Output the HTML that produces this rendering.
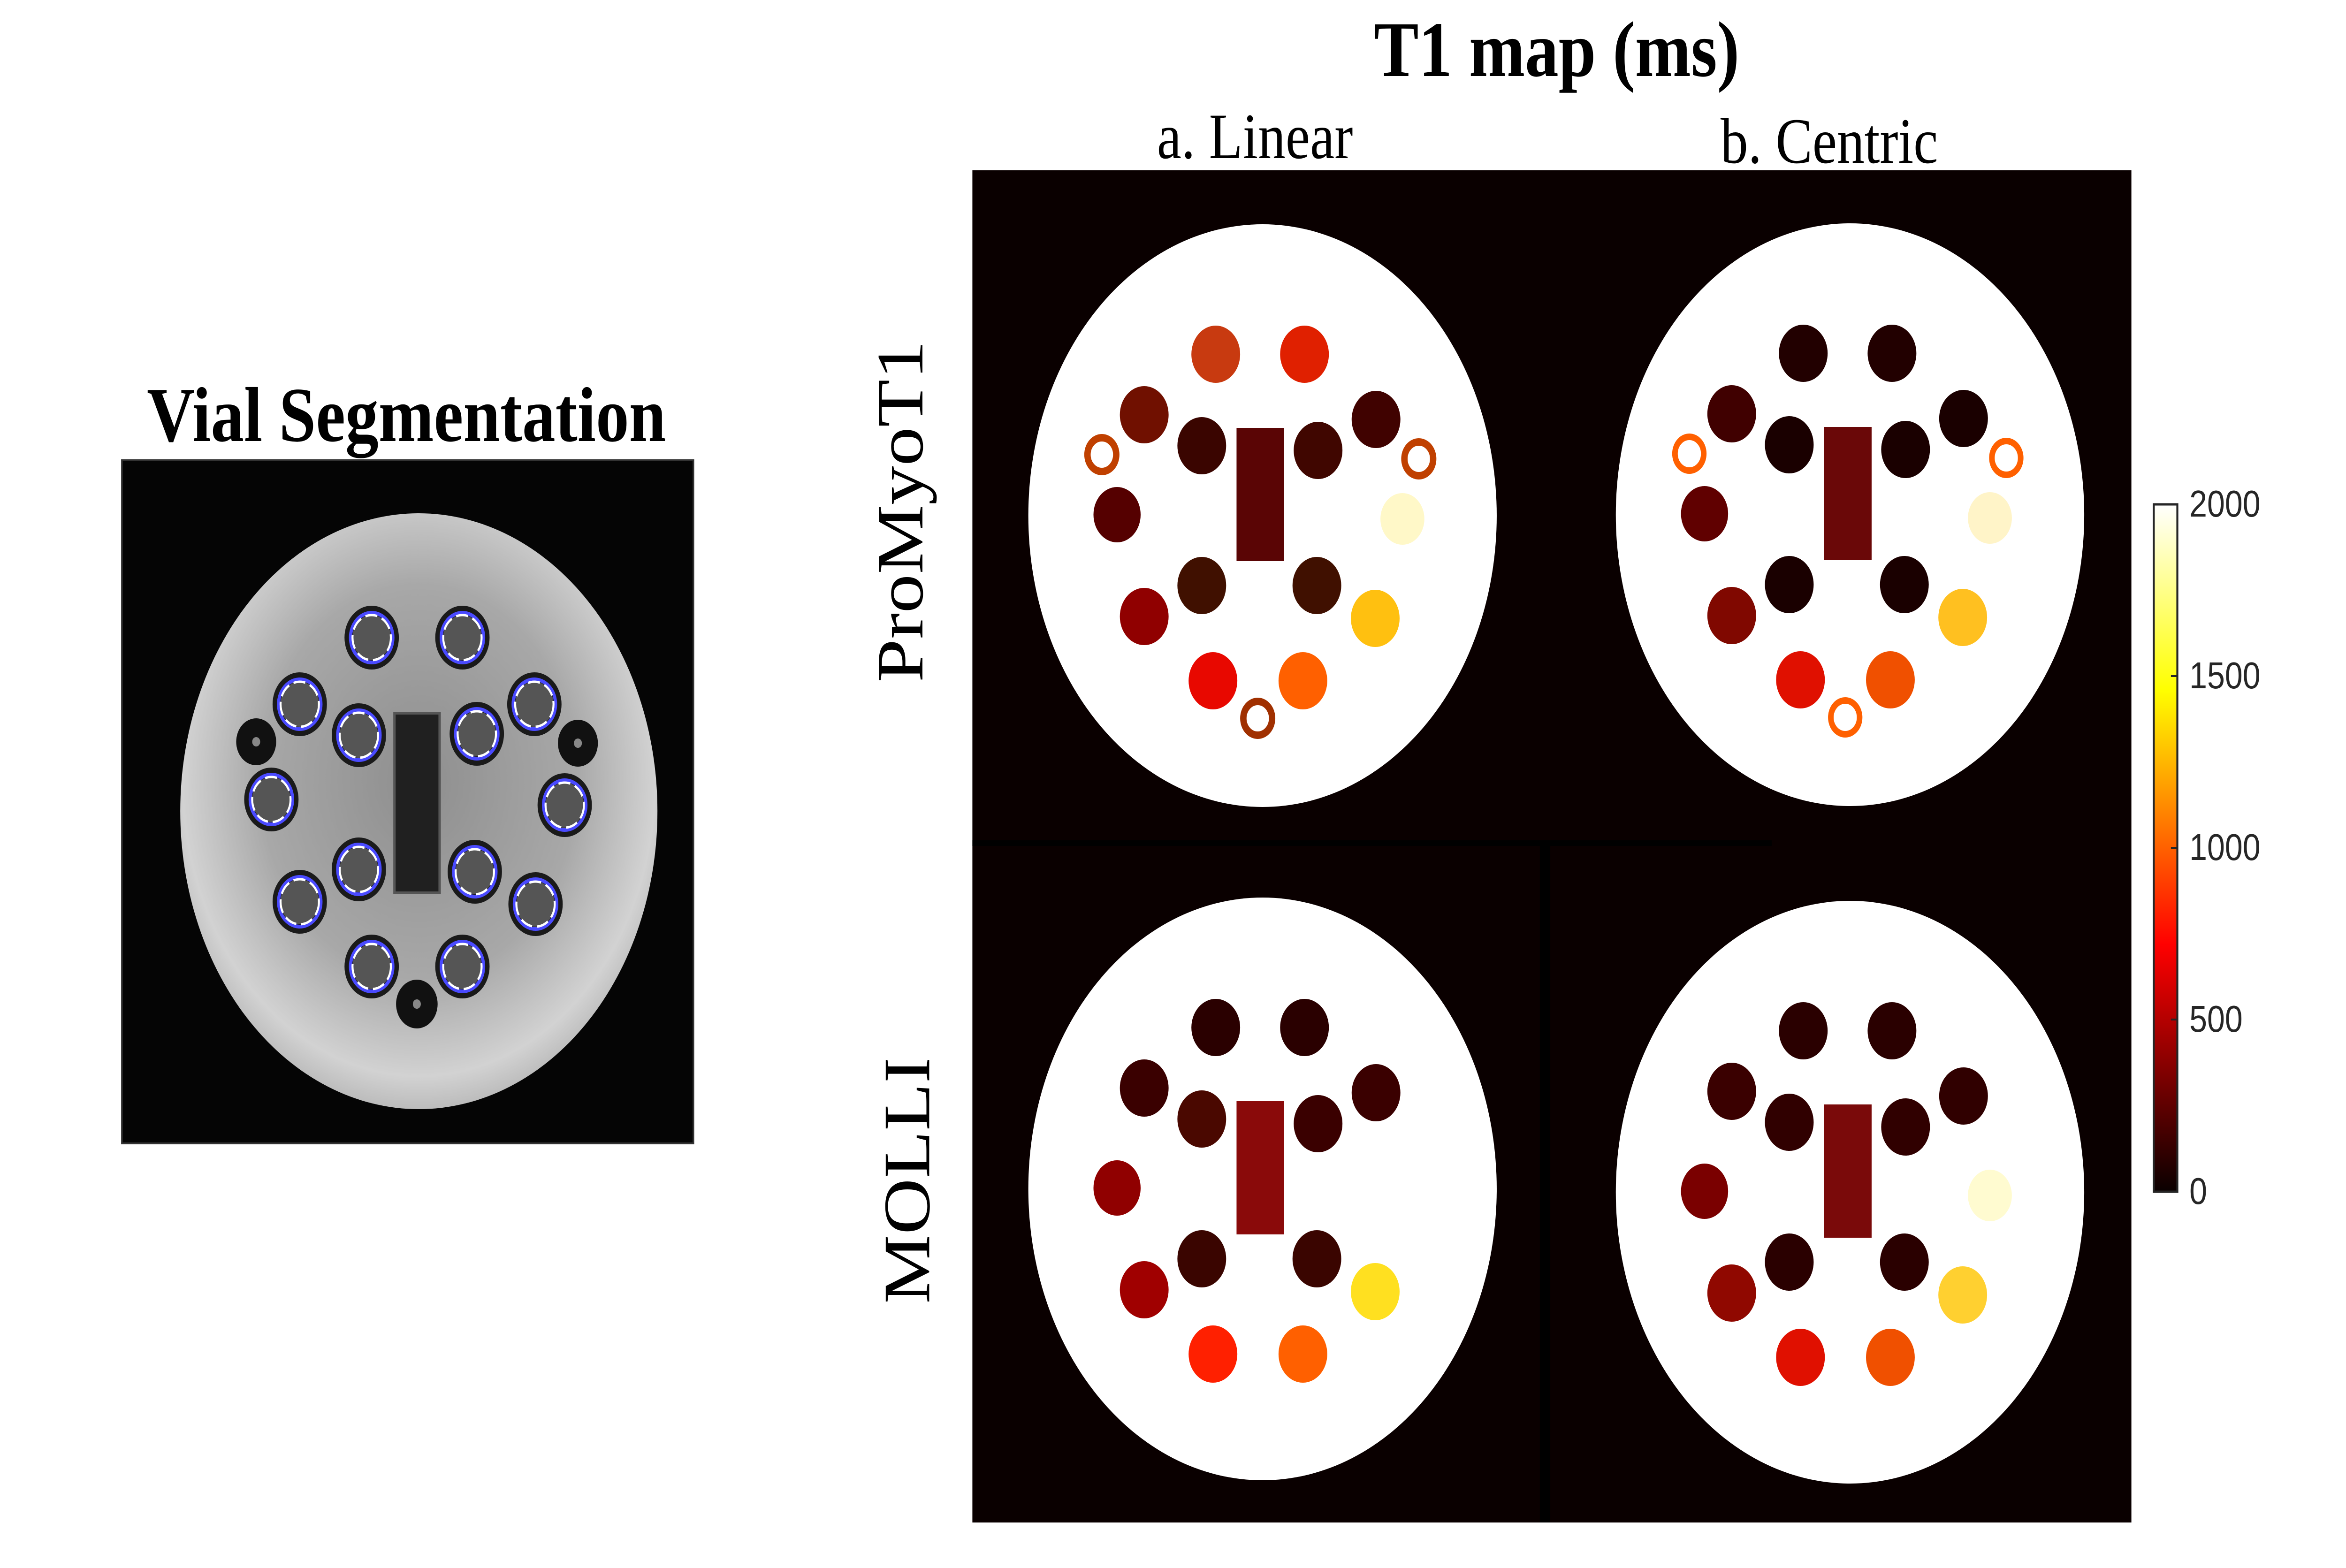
<!DOCTYPE html>
<html><head><meta charset="utf-8"><style>
html,body{margin:0;padding:0;background:#fff;overflow:hidden;width:100%;height:100%;}
svg{display:block;width:100vw;height:100vh;}
</style></head><body>
<svg xmlns="http://www.w3.org/2000/svg" viewBox="0 0 5870 3342" preserveAspectRatio="none">
<defs>
<radialGradient id="ph" cx="50%" cy="45%" r="55%">
<stop offset="0" stop-color="#8e8e8e"/><stop offset="0.6" stop-color="#a8a8a8"/><stop offset="0.9" stop-color="#d2d2d2"/><stop offset="1" stop-color="#bcbcbc"/>
</radialGradient>
<linearGradient id="cb" x1="0" y1="1" x2="0" y2="0">
<stop offset="0" stop-color="#0a0000"/><stop offset="0.36" stop-color="#ff0000"/><stop offset="0.73" stop-color="#ffff00"/><stop offset="1" stop-color="#ffffff"/>
</linearGradient>
<g id="gv">
<circle r="68" fill="#1a1a1a"/><circle r="48" fill="#555"/>
<circle r="53" fill="none" stroke="#4a4aff" stroke-width="8"/>
<circle r="48" fill="none" stroke="#fff" stroke-width="5" stroke-dasharray="30 12"/>
</g>
</defs>
<rect width="5870" height="3342" fill="#fff"/>

<text x="1017" y="940" font-family="Liberation Serif, serif" font-weight="bold" font-size="166" text-anchor="middle">Vial Segmentation</text>
<text x="3895" y="162" font-family="Liberation Serif, serif" font-weight="bold" font-size="168" text-anchor="middle">T1 map (ms)</text>
<text x="3140" y="337" font-family="Liberation Serif, serif" font-size="138" text-anchor="middle">a. Linear</text>
<text x="4577" y="347" font-family="Liberation Serif, serif" font-size="138" text-anchor="middle">b. Centric</text>
<text transform="translate(2308,1090) rotate(-90)" font-family="Liberation Serif, serif" font-size="166" text-anchor="middle">ProMyoT1</text>
<text transform="translate(2325,2516) rotate(-90)" font-family="Liberation Serif, serif" font-size="166" text-anchor="middle">MOLLI</text>

<rect x="305" y="981" width="1430" height="1456" fill="#050505" stroke="#333" stroke-width="4"/>
<ellipse cx="1048" cy="1729" rx="597" ry="635" fill="url(#ph)"/>
<rect x="987" y="1520" width="113" height="383" fill="#202020" stroke="#555" stroke-width="6"/>
<g fill="#111"><circle cx="641" cy="1581" r="50"/><circle cx="1446" cy="1584" r="50"/><circle cx="1043" cy="2140" r="52"/></g>
<g fill="#888"><circle cx="641" cy="1581" r="10"/><circle cx="1446" cy="1584" r="10"/><circle cx="1043" cy="2140" r="10"/></g>
<use href="#gv" x="930" y="1359"/><use href="#gv" x="1157" y="1359"/>
<use href="#gv" x="750" y="1501"/><use href="#gv" x="1337" y="1501"/>
<use href="#gv" x="898" y="1567"/><use href="#gv" x="1193" y="1564"/>
<use href="#gv" x="679" y="1704"/><use href="#gv" x="1413" y="1716"/>
<use href="#gv" x="898" y="1853"/><use href="#gv" x="1188" y="1858"/>
<use href="#gv" x="750" y="1922"/><use href="#gv" x="1340" y="1927"/>
<use href="#gv" x="930" y="2060"/><use href="#gv" x="1157" y="2060"/>

<rect x="2433" y="363" width="2900" height="2882" fill="#0a0000"/>
<rect x="2433" y="1791" width="2000" height="12" fill="#000"/>
<rect x="3853" y="1800" width="26" height="1445" fill="#000"/>

<g transform="translate(3159,1099)">
<ellipse rx="586" ry="621" fill="#fff"/>
<circle cx="-117" cy="-344" r="61" fill="#c83a10"/>
<circle cx="105" cy="-344" r="61" fill="#e02000"/>
<circle cx="-296" cy="-215" r="61" fill="#701000"/>
<circle cx="284" cy="-205" r="61" fill="#400200"/>
<circle cx="-152" cy="-149" r="61" fill="#3a0500"/>
<circle cx="139" cy="-139" r="61" fill="#400600"/>
<circle cx="-402" cy="-130" r="36" fill="none" stroke="#c04000" stroke-width="16"/>
<circle cx="391" cy="-121" r="36" fill="none" stroke="#c04000" stroke-width="16"/>
<circle cx="-364" cy="-2" r="59" fill="#550000"/>
<circle cx="350" cy="7" r="55" fill="#fff8c8"/>
<rect x="-65" y="-187" width="119" height="284" fill="#5a0505"/>
<circle cx="-152" cy="149" r="61" fill="#401000"/>
<circle cx="136" cy="149" r="61" fill="#401000"/>
<circle cx="-296" cy="215" r="61" fill="#900000"/>
<circle cx="282" cy="219" r="61" fill="#ffc010"/>
<circle cx="-124" cy="352" r="61" fill="#e80800"/>
<circle cx="101" cy="352" r="61" fill="#ff6000"/>
<circle cx="-12" cy="432" r="36" fill="none" stroke="#a03000" stroke-width="16"/>
</g>

<g transform="translate(4629,1097)">
<ellipse rx="586" ry="621" fill="#fff"/>
<circle cx="-117" cy="-344" r="61" fill="#220000"/>
<circle cx="105" cy="-344" r="61" fill="#220000"/>
<circle cx="-296" cy="-215" r="61" fill="#400000"/>
<circle cx="284" cy="-205" r="61" fill="#1a0000"/>
<circle cx="-152" cy="-149" r="61" fill="#1a0000"/>
<circle cx="139" cy="-139" r="61" fill="#1a0000"/>
<circle cx="-402" cy="-130" r="36" fill="none" stroke="#ff6000" stroke-width="14"/>
<circle cx="391" cy="-121" r="36" fill="none" stroke="#ff6000" stroke-width="14"/>
<circle cx="-364" cy="-2" r="59" fill="#600000"/>
<circle cx="350" cy="7" r="55" fill="#fff4c8"/>
<rect x="-65" y="-187" width="119" height="284" fill="#6a0808"/>
<circle cx="-152" cy="149" r="61" fill="#1a0000"/>
<circle cx="136" cy="149" r="61" fill="#1a0000"/>
<circle cx="-296" cy="215" r="61" fill="#800800"/>
<circle cx="282" cy="219" r="61" fill="#ffc020"/>
<circle cx="-124" cy="352" r="61" fill="#e01000"/>
<circle cx="101" cy="352" r="61" fill="#f05000"/>
<circle cx="-12" cy="432" r="36" fill="none" stroke="#ff6000" stroke-width="14"/>
</g>

<g transform="translate(3159,2534)">
<ellipse rx="586" ry="621" fill="#fff"/>
<circle cx="-117" cy="-344" r="61" fill="#2a0000"/>
<circle cx="105" cy="-344" r="61" fill="#2a0000"/>
<circle cx="-296" cy="-215" r="61" fill="#3a0000"/>
<circle cx="284" cy="-205" r="61" fill="#3a0000"/>
<circle cx="-152" cy="-149" r="61" fill="#4a0800"/>
<circle cx="139" cy="-139" r="61" fill="#3a0000"/>
<circle cx="-364" cy="-2" r="59" fill="#900000"/>
<rect x="-65" y="-187" width="119" height="284" fill="#8a0a0a"/>
<circle cx="-152" cy="149" r="61" fill="#3a0500"/>
<circle cx="136" cy="149" r="61" fill="#3a0500"/>
<circle cx="-296" cy="215" r="61" fill="#a00000"/>
<circle cx="282" cy="219" r="61" fill="#ffe020"/>
<circle cx="-124" cy="352" r="61" fill="#ff2000"/>
<circle cx="101" cy="352" r="61" fill="#ff6000"/>
</g>

<g transform="translate(4629,2541)">
<ellipse rx="586" ry="621" fill="#fff"/>
<circle cx="-117" cy="-344" r="61" fill="#2a0000"/>
<circle cx="105" cy="-344" r="61" fill="#2a0000"/>
<circle cx="-296" cy="-215" r="61" fill="#3a0000"/>
<circle cx="284" cy="-205" r="61" fill="#300000"/>
<circle cx="-152" cy="-149" r="61" fill="#300000"/>
<circle cx="139" cy="-139" r="61" fill="#300000"/>
<circle cx="-364" cy="-2" r="59" fill="#7a0000"/>
<circle cx="350" cy="7" r="55" fill="#fffbd0"/>
<rect x="-65" y="-187" width="119" height="284" fill="#7a0a0a"/>
<circle cx="-152" cy="149" r="61" fill="#2a0000"/>
<circle cx="136" cy="149" r="61" fill="#2a0000"/>
<circle cx="-296" cy="215" r="61" fill="#900800"/>
<circle cx="282" cy="219" r="61" fill="#ffd030"/>
<circle cx="-124" cy="352" r="61" fill="#e01000"/>
<circle cx="101" cy="352" r="61" fill="#f05000"/>
</g>

<rect x="5389" y="1075" width="59" height="1465" fill="url(#cb)" stroke="#262626" stroke-width="5"/>
<g stroke="#262626" stroke-width="4">
<line x1="5432" y1="1441" x2="5448" y2="1441"/><line x1="5432" y1="1807" x2="5448" y2="1807"/><line x1="5432" y1="2173" x2="5448" y2="2173"/>
</g>
<g font-family="Liberation Sans, sans-serif" font-size="80" fill="#262626">
<text x="5478" y="1101">2000</text>
<text x="5478" y="1467">1500</text>
<text x="5478" y="1833">1000</text>
<text x="5478" y="2199">500</text>
<text x="5478" y="2566">0</text>
</g>
</svg>
</body></html>
